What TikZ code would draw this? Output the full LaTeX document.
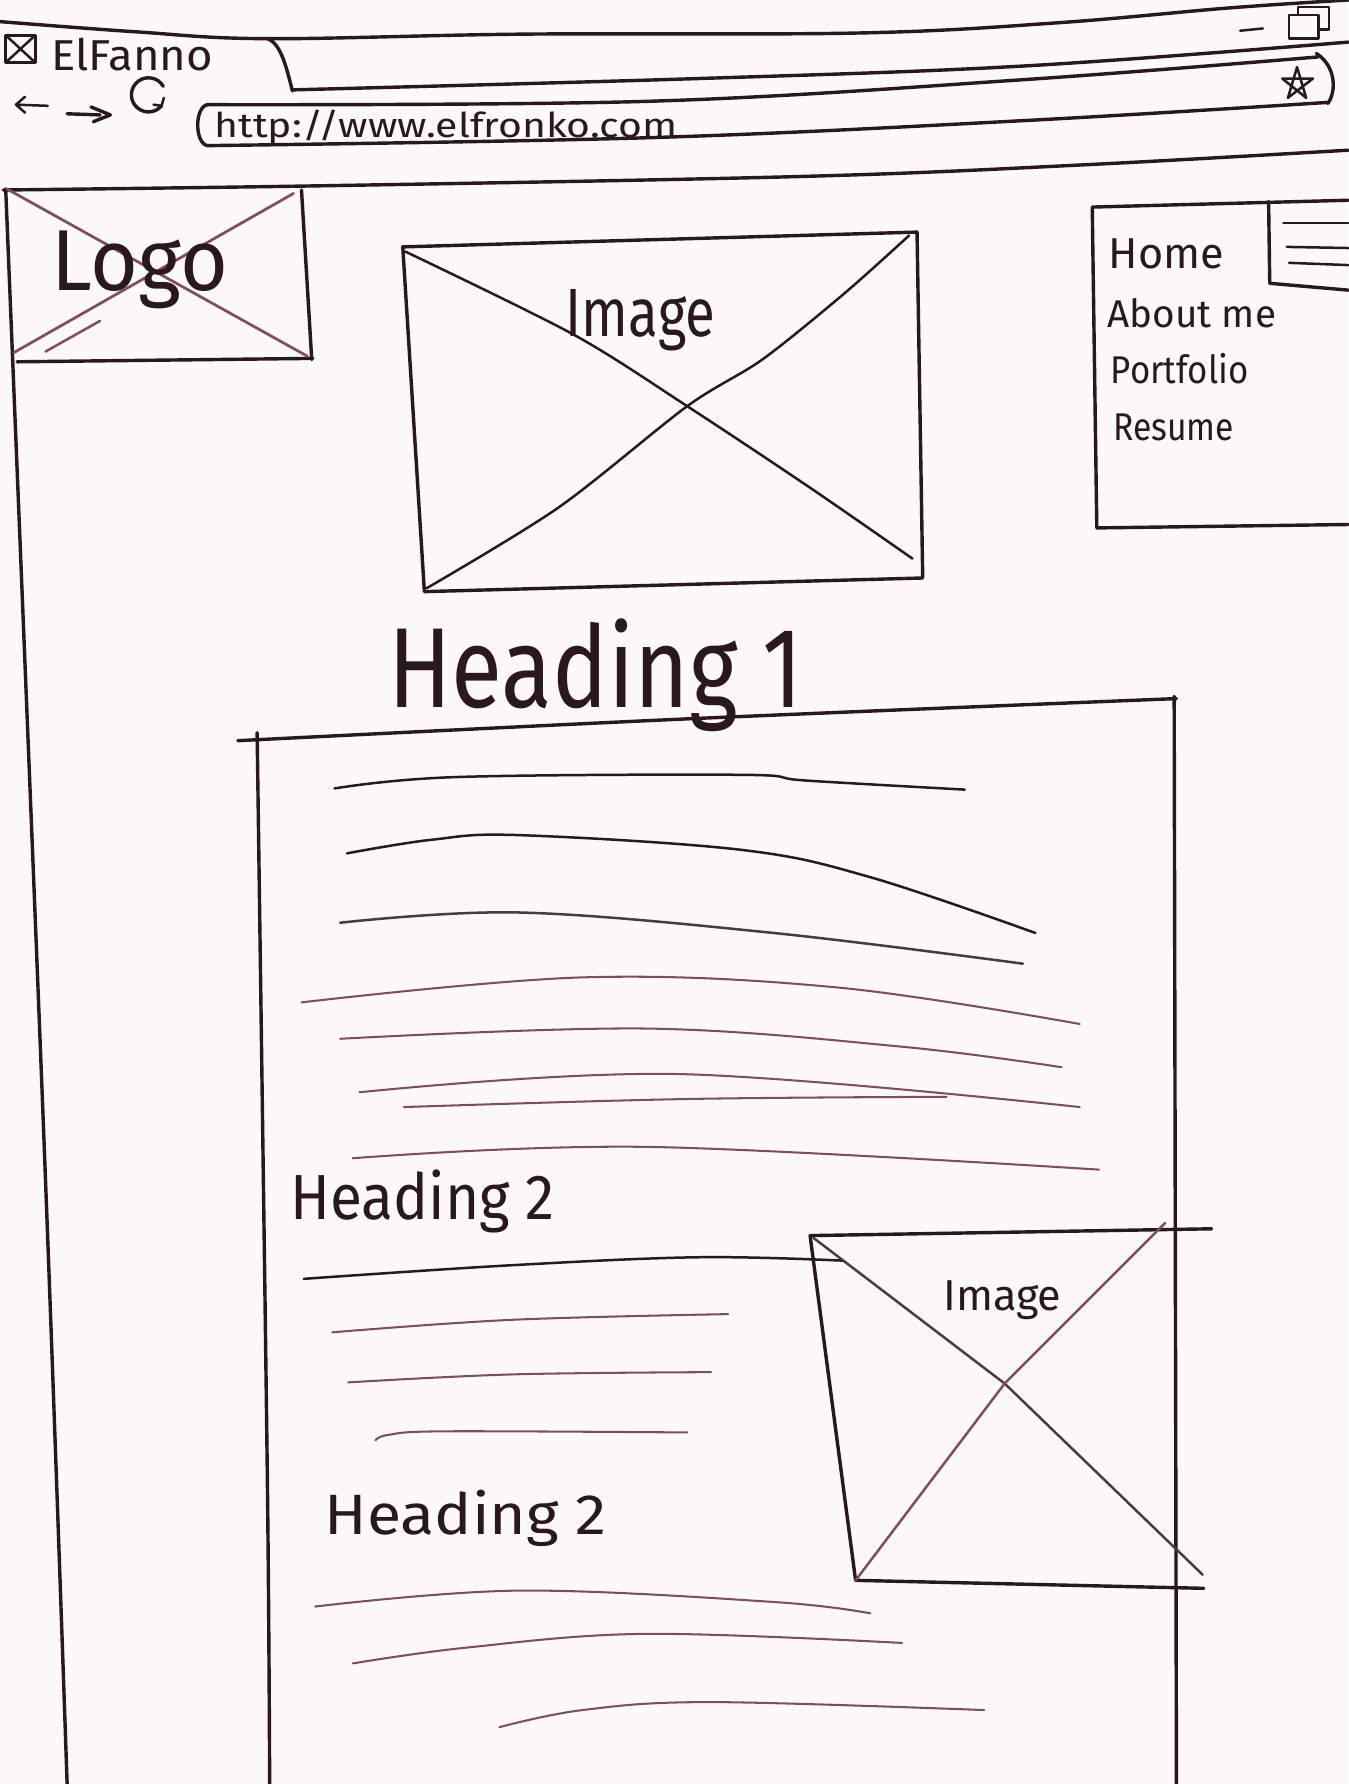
\documentclass[tikz,border=0pt]{standalone}
\usepackage{fontspec}
\usepackage{graphicx}
\newfontfamily\hand{Fira Sans}
\definecolor{inkc}{RGB}{42,24,32}
\definecolor{pencilc}{RGB}{125,78,92}
\definecolor{paper}{RGB}{252,248,249}
% handwritten-looking text: horizontal stretch, size, text
\newcommand\handtxt[3]{\scalebox{#1}[1]{\hand\fontsize{#2}{#2}\selectfont #3}}
\begin{document}
\begin{tikzpicture}[x=0.5pt,y=-0.5pt,
  ink/.style={draw=inkc, line width=1.5pt, line cap=round, line join=round},
  inkmid/.style={draw=inkc, line width=1.1pt, line cap=round, line join=round},
  pencil/.style={draw=pencilc, line width=0.9pt, line cap=round, line join=round},
  word/.style={inner sep=0pt, text=inkc},
]
\fill[paper] (0,0) rectangle (1185,1568);
\useasboundingbox (0,0) rectangle (1185,1568);

% ---------- browser window chrome ----------
\draw[ink] plot[smooth, tension=0.6] coordinates {(0,19) (120,28) (235,34) (460,30) (755,29) (930,20) (1080,7) (1185,0)};
\draw[ink] (235,34) .. controls (247,38) and (252,60) .. (257,80);
\draw[ink] plot[smooth, tension=0.6] coordinates {(257,79) (615,69) (900,58) (1185,37)};
\node[word, anchor=base west] (tabTitle) at (45,62) {\handtxt{1.05}{19}{ElFanno}};
% address bar
\draw[ink] plot[smooth, tension=0.6] coordinates {(182,92) (571,89) (900,70) (1159,50)};
\draw[ink] plot[smooth, tension=0.6] coordinates {(182,128) (571,121) (900,106) (1167,90)};
\draw[ink] (182,92) .. controls (171,95) and (171,125) .. (182,128);
\draw[ink] (1157,47) .. controls (1174,58) and (1175,80) .. (1167,91);
\node[word, anchor=base west] (urlText) at (188,121) {\handtxt{1.2}{15}{http://www.elfronko.com}};
% tab icon
\draw[inkmid] (5,31) rectangle (31,55);
\draw[inkmid] (5,31) -- (31,55) (31,31) -- (5,55);
% back, forward, reload
\draw[inkmid] (42,93) -- (14,92) (22,85) -- (14,92) -- (22,99);
\draw[ink] (59,100) -- (88,101) (80,94) -- (97,101) -- (82,107);
\draw[ink] (142,93) arc (40:330:15);
\draw[inkmid] (142,93) -- (144,86) (142,93) -- (135,92);
% star
\draw[inkmid] (1140,59) -- (1148,86) -- (1127,69) -- (1154,69) -- (1132,86) -- cycle;
% window buttons
\draw[inkmid] (1090,27) -- (1110,25);
\draw[inkmid] (1141,13) -- (1141,6) -- (1168,6) -- (1168,26) -- (1159,26);
\draw[inkmid] (1133,13) rectangle (1159,34);

% ---------- page frame ----------
\draw[ink] plot[smooth, tension=0.6] coordinates {(3,167) (300,163) (708,155) (950,145) (1185,132)};
\draw[ink] plot[smooth, tension=0.6] coordinates {(5,166) (39,1011) (59,1568)};

% ---------- logo ----------
\draw[ink] (265,167) -- (274,316);
\draw[ink] (15,318) -- (275,315);
\draw[pencil, line width=1.2pt] (6,166) -- (270,313);
\draw[pencil, line width=1.2pt] (12,310) -- (258,170);
\draw[pencil, line width=1.1pt] (40,309) -- (88,282);
\node[word, anchor=base] (logoText) at (123,255) {\handtxt{0.95}{38}{Logo}};

% ---------- hero image ----------
\coordinate (iTL) at (354,217);
\coordinate (iTR) at (806,204);
\coordinate (iBR) at (811,508);
\coordinate (iBL) at (373,520);
\draw[ink] (iTL) -- (iTR) -- (iBR) -- (iBL) -- cycle;
\draw[inkmid] plot[smooth, tension=0.5] coordinates {(356,221) (504,294) (604,357) (711,428) (802,491)};
\draw[inkmid] plot[smooth, tension=0.5] coordinates {(375,517) (491,446) (604,357) (670,316) (742,258) (799,207)};
\node[word, anchor=base] (heroText) at (563,296) {\handtxt{0.8}{30}{Image}};

% ---------- navigation ----------
\draw[ink] (1185,176) -- (960,182) -- (964,464) -- (1185,461);
\draw[ink] (1115,177) -- (1116,249) -- (1185,255);
\draw[inkmid] (1128,196) -- (1185,196);
\draw[inkmid] (1131,217) -- (1185,218);
\draw[inkmid] (1133,231) -- (1185,233);
\node[word, anchor=base west] (navHome) at (974,236) {\handtxt{1.0}{19}{Home}};
\node[word, anchor=base west] (navAbout) at (973,288) {\handtxt{1.0}{17}{About me}};
\node[word, anchor=base west] (navPortfolio) at (976,337) {\handtxt{0.9}{17}{Portfolio}};
\node[word, anchor=base west] (navResume) at (978,387) {\handtxt{0.87}{17}{Resume}};

% ---------- main heading ----------
\node[word, anchor=base west] (headOne) at (341,622) {\handtxt{0.82}{50}{Heading 1}};

% ---------- content column ----------
\draw[ink] plot[smooth, tension=0.5] coordinates {(209,651) (600,632) (1034,614)};
\draw[ink] plot[smooth, tension=0.5] coordinates {(226,644) (235,1301) (237,1568)};
\draw[ink] (1032,612) -- (1034,1568);

% paragraph lines
\draw[inkmid] plot[smooth, tension=0.6] coordinates {(294,693) (400,683) (652,681) (708,686) (848,694)};
\draw[inkmid] plot[smooth, tension=0.6] coordinates {(305,750) (380,738) (456,734) (652,747) (765,771) (910,820)};
\draw[inkmid, draw=inkc!85] plot[smooth, tension=0.6] coordinates {(299,811) (456,802) (680,820) (899,847)};
\draw[pencil] plot[smooth, tension=0.6] coordinates {(265,881) (513,859) (737,868) (949,900)};
\draw[pencil] plot[smooth, tension=0.6] coordinates {(299,913) (568,904) (793,920) (933,938)};
\draw[pencil] plot[smooth, tension=0.6] coordinates {(316,960) (596,944) (949,973)};
\draw[pencil] plot[smooth, tension=0.6] coordinates {(355,973) (600,966) (832,964)};
\draw[pencil] plot[smooth, tension=0.6] coordinates {(310,1018) (568,1008) (966,1028)};

% first sub-section
\node[word, anchor=base west] (headTwoA) at (255,1072) {\handtxt{0.92}{28}{Heading 2}};
\draw[inkmid] plot[smooth, tension=0.6] coordinates {(267,1124) (450,1112) (615,1105) (741,1108)};
\draw[pencil] plot[smooth, tension=0.6] coordinates {(292,1171) (450,1160) (640,1155)};
\draw[pencil] plot[smooth, tension=0.6] coordinates {(306,1215) (450,1208) (625,1206)};
\draw[pencil] plot[smooth, tension=0.6] coordinates {(330,1266) (342,1261) (392,1258) (604,1259)};

% side image
\coordinate (sTL) at (712,1086);
\coordinate (sTR) at (1065,1080);
\coordinate (sBL) at (752,1389);
\coordinate (sBR) at (1058,1396);
\draw[ink] (sTR) -- (sTL) -- (sBL) -- (sBR);
\draw[inkmid, draw=inkc!85] (715,1088) -- (883,1216) -- (1057,1384);
\draw[pencil, line width=1.1pt] (sBL) -- (883,1216) -- (1024,1075);
\node[word, anchor=base] (sideText) at (881,1152) {\handtxt{1.0}{19}{Image}};

% second sub-section
\node[word, anchor=base west] (headTwoB) at (285,1349) {\handtxt{1.1}{25}{Heading 2}};
\draw[pencil] plot[smooth, tension=0.6] coordinates {(277,1412) (456,1398) (680,1408) (765,1418)};
\draw[pencil] plot[smooth, tension=0.6] coordinates {(310,1462) (411,1448) (568,1436) (793,1444)};
\draw[pencil] plot[smooth, tension=0.6] coordinates {(439,1518) (512,1503) (624,1496) (865,1503)};
\end{tikzpicture}
\end{document}
